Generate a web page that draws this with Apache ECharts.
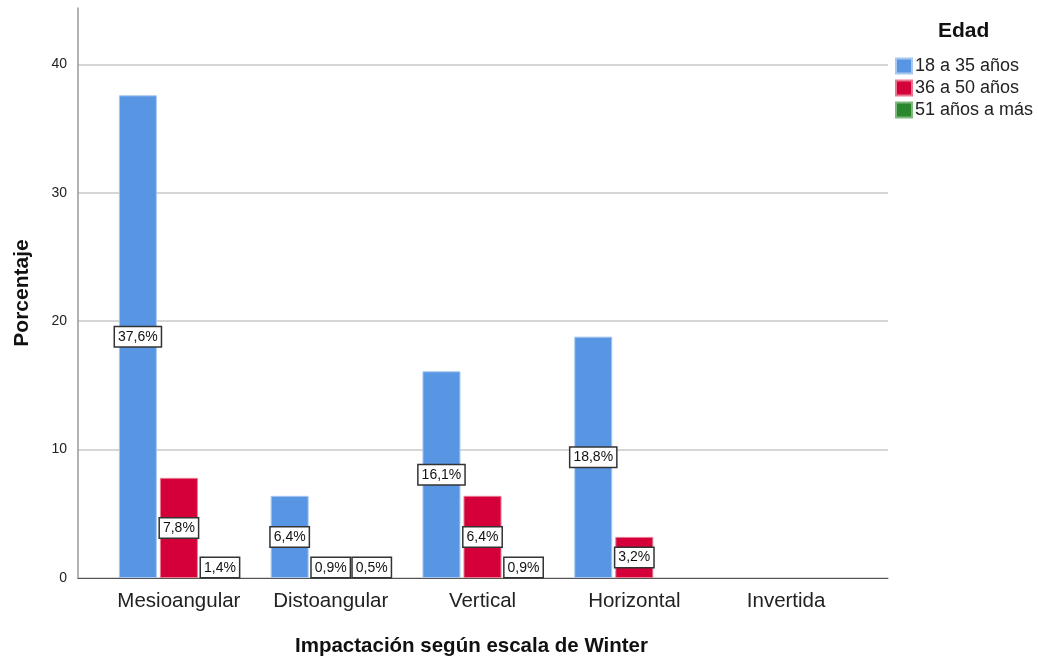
<!DOCTYPE html>
<html>
<head>
<meta charset="utf-8">
<script src="https://cdn.jsdelivr.net/npm/echarts@6/dist/echarts.min.js"></script>
<style>
  html, body { margin: 0; padding: 0; background: #fff; }
  #main { width: 1038px; height: 661px; }
</style>
</head>
<body>
<div id="main"></div>
<script>
var categorias = ['Mesioangular', 'Distoangular', 'Vertical', 'Horizontal', 'Invertida'];
var grupos = ['18 a 35 años', '36 a 50 años', '51 años a más'];
// porcentajes por grupo de edad (null = sin barra)
var edad18a35 = [37.6, 6.4, 16.1, 18.8, null];
var edad36a50 = [7.8, 0.9, 6.4, 3.2, null];
var edad51mas = [1.4, 0.5, 0.9, null, null];
var yTicks = [0, 10, 20, 30, 40];

var colores = ['#5896e4', '#d5003a', '#2b872b'];
var bordes = ['#a8c8f0', '#e87890', '#80b880'];
var fuente = '"Liberation Sans", Arial, sans-serif';

function pct(v) {
  return v.toFixed(1).replace('.', ',') + '%';
}

function datos(arr) {
  return arr.map(function (v) {
    if (v == null) return '-';
    // barras bajas: la etiqueta se apoya sobre el eje
    if (v < 2.5) return { value: v, label: { position: 'insideBottom', distance: 1 } };
    return v;
  });
}

var myChart = echarts.init(document.getElementById('main'));

var series = [edad18a35, edad36a50, edad51mas].map(function (arr, i) {
  return {
    name: grupos[i],
    type: 'bar',
    xAxisIndex: 1,
    yAxisIndex: 1,
    barWidth: 38,
    barGap: '8%',
    itemStyle: { color: colores[i], borderColor: bordes[i], borderWidth: 1 },
    label: {
      show: true,
      position: 'inside',
      formatter: function (p) { return pct(p.value); },
      color: '#111',
      fontFamily: fuente,
      fontSize: 14,
      backgroundColor: '#fff',
      borderColor: '#333',
      borderWidth: 1.5,
      padding: [3, 3, 2, 3]
    },
    data: datos(arr)
  };
});

var option = {
  animation: false,
  backgroundColor: '#fff',
  title: [
    {
      text: 'Edad',
      left: 933, top: 16,
      textStyle: { fontFamily: fuente, fontSize: 21, fontWeight: 'bold', color: '#111' }
    },
    {
      text: 'Impactación según escala de Winter',
      left: 290, top: 631,
      textStyle: { fontFamily: fuente, fontSize: 20.5, fontWeight: 'bold', color: '#111' }
    }
  ],
  legend: {
    orient: 'vertical',
    left: 890, top: 52,
    itemWidth: 16, itemHeight: 15, itemGap: 4,
    icon: 'rect',
    textStyle: { fontFamily: fuente, fontSize: 18, color: '#222', padding: [0, 0, 0, -2] },
    data: grupos
  },
  grid: [
    { left: 78, right: 150, top: 8, bottom: 83 },
    { left: 103, width: 759, top: 8, bottom: 83 }
  ],
  xAxis: [
    {
      type: 'value', gridIndex: 0, min: 0, max: 1,
      axisLine: { show: true, lineStyle: { color: '#555', width: 1 } },
      axisTick: { show: false }, axisLabel: { show: false }, splitLine: { show: false }
    },
    {
      type: 'category', gridIndex: 1, data: categorias,
      axisLine: { show: false }, axisTick: { show: false },
      axisLabel: {
        interval: 0, hideOverlap: false,
        fontFamily: fuente, fontSize: 20.5, color: '#222', margin: 13
      }
    }
  ],
  yAxis: [
    {
      type: 'value', gridIndex: 0, min: yTicks[0], max: 44.4, interval: 10,
      name: 'Porcentaje', nameLocation: 'middle', nameGap: 45,
      nameTextStyle: { fontFamily: fuente, fontSize: 21, fontWeight: 'bold', color: '#111' },
      axisLine: { show: true, lineStyle: { color: '#999', width: 1.5 } },
      axisTick: { show: false },
      axisLabel: {
        fontFamily: fuente, fontSize: 14, color: '#222', margin: 11, showMaxLabel: false,
        formatter: function (v) { return yTicks.indexOf(v) >= 0 ? v : ''; }
      },
      splitLine: { show: true, showMaxLine: false, lineStyle: { color: '#c8c8c8', width: 1.5 } }
    },
    {
      type: 'value', gridIndex: 1, min: 0, max: 44.4, show: false,
      splitLine: { show: false }
    }
  ],
  series: series
};

myChart.setOption(option);
</script>
</body>
</html>
